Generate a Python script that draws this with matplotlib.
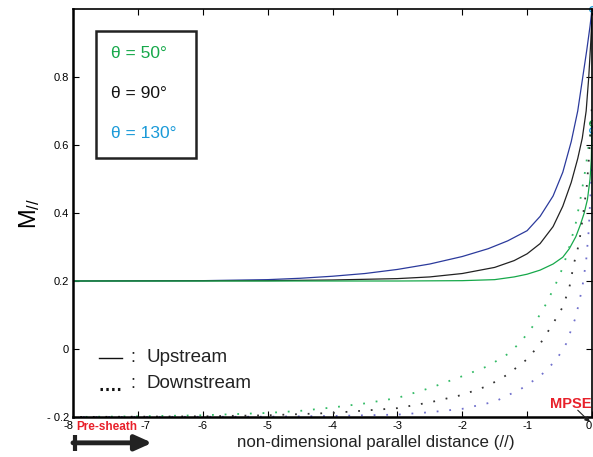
import matplotlib
matplotlib.use("Agg")
import matplotlib.pyplot as plt
import matplotlib.transforms as mtransforms
from matplotlib.patches import Rectangle

plt.rcParams['font.family'] = ['Liberation Sans', 'DejaVu Sans']

# ---- data ----
up_blue_x = [-8, -6, -5, -4.5, -4, -3.5, -3, -2.5, -2, -1.6, -1.3, -1.0, -0.8, -0.6,
             -0.45, -0.32, -0.22, -0.15, -0.08, -0.03, 0]
up_blue_y = [0.2, 0.201, 0.204, 0.208, 0.214, 0.222, 0.234, 0.25, 0.272, 0.295, 0.318,
             0.348, 0.39, 0.45, 0.52, 0.61, 0.70, 0.79, 0.88, 0.95, 1.0]

up_black_x = [-8, -5, -4, -3, -2.5, -2, -1.5, -1.2, -1.0, -0.8, -0.6, -0.45, -0.32,
              -0.22, -0.15, -0.09, -0.05, -0.02, 0]
up_black_y = [0.2, 0.201, 0.203, 0.207, 0.212, 0.222, 0.24, 0.26, 0.28, 0.31, 0.36,
              0.42, 0.49, 0.56, 0.62, 0.70, 0.80, 0.90, 0.98]

up_green_x = [-8, -3, -2, -1.5, -1.2, -1.0, -0.8, -0.6, -0.45, -0.35, -0.25, -0.18,
              -0.12, -0.07, -0.03, -0.01, 0]
up_green_y = [0.2, 0.2, 0.201, 0.204, 0.212, 0.22, 0.232, 0.25, 0.27, 0.295, 0.33,
              0.365, 0.40, 0.44, 0.50, 0.56, 0.665]

dn_green_x = [-8, -7, -6, -5, -4.5, -4, -3.5, -3, -2.5, -2, -1.6, -1.3, -1.1, -0.9,
              -0.7, -0.55, -0.45, -0.35, -0.25, -0.17, -0.1, -0.05, 0]
dn_green_y = [-0.2, -0.198, -0.195, -0.188, -0.182, -0.172, -0.16, -0.144, -0.115,
              -0.08, -0.05, -0.015, 0.02, 0.07, 0.135, 0.195, 0.24, 0.30, 0.37, 0.45,
              0.53, 0.60, 0.665]

dn_black_x = [-8, -6, -5, -4, -3, -2.5, -2, -1.6, -1.3, -1.0, -0.8, -0.6, -0.45, -0.35,
              -0.28, -0.2, -0.14, -0.08, -0.04, 0]
dn_black_y = [-0.2, -0.198, -0.195, -0.188, -0.174, -0.157, -0.135, -0.108, -0.075,
              -0.03, 0.015, 0.075, 0.124, 0.18, 0.25, 0.31, 0.39, 0.48, 0.58, 0.72]

dn_blue_x = [-8, -5, -4, -3, -2.5, -2, -1.5, -1.1, -0.8, -0.55, -0.4, -0.25, -0.15,
             -0.09, -0.05, 0]
dn_blue_y = [-0.2, -0.199, -0.197, -0.193, -0.186, -0.176, -0.155, -0.118, -0.08,
             -0.032, 0.015, 0.094, 0.18, 0.26, 0.35, 0.55]

end_marks_x = [0, 0, 0]
end_marks_y = [1.0, 0.665, 0.644]
end_marks_c = ['#1a9ad8', '#16a84a', '#1a9ad8']

xticks = [-8, -7, -6, -5, -4, -3, -2, -1, 0]
yticks = [-0.2, 0, 0.2, 0.4, 0.6, 0.8]
ytick_labels = ['- 0.2', '0', '0.2', '0.4', '0.6', '0.8']
theta_labels = ['θ = 50°', 'θ = 90°', 'θ = 130°']
theta_colors = ['#16a84a', '#111111', '#1a9ad8']

# ---- figure ----
fig = plt.figure(figsize=(5.93, 4.57), dpi=100)
ax = fig.add_axes([73/593, 40/457, 519/593, 408/457])

BLUE = '#2b3a9c'
BLACK = '#222222'
GREEN = '#16a84a'

ax.plot(up_blue_x, up_blue_y, color=BLUE, lw=0.9)
ax.plot(up_black_x, up_black_y, color=BLACK, lw=0.9)
ax.plot(up_green_x, up_green_y, color=GREEN, lw=0.9)

ax.plot(dn_green_x, dn_green_y, color='#33bb66', lw=1.3, ls=(0, (1, 6)))
ax.plot(dn_black_x, dn_black_y, color='#333333', lw=1.3, ls=(3, (1, 6)))
ax.plot(dn_blue_x, dn_blue_y, color='#7070cc', lw=1.3, ls=(1.5, (1, 6)))

for xm, ym, cm in zip(end_marks_x, end_marks_y, end_marks_c):
    ax.plot([xm], [ym], marker='o', ms=4, mfc='none', mec=cm, mew=0.9, clip_on=False)

ax.set_xlim(-8, 0)
ax.set_ylim(-0.2, 1.0)
ax.set_xticks(xticks)
ax.set_xticklabels([str(t) for t in xticks])
ax.set_yticks(yticks)
ax.set_yticklabels(ytick_labels)
ax.tick_params(direction='in', length=4, width=0.8, labelsize=8,
               top=True, right=True, pad=3)

# nudge some x tick labels like the reference
labs = ax.get_xticklabels()
for idx, dx in [(0, -4.5), (1, 8), (8, -3)]:
    labs[idx].set_transform(labs[idx].get_transform() +
                            mtransforms.ScaledTranslation(dx/100, 0, fig.dpi_scale_trans))

for s in ['left', 'bottom']:
    ax.spines[s].set_linewidth(1.8)
for s in ['top', 'right']:
    ax.spines[s].set_linewidth(1.2)

# theta box
def ax_px(px, py):
    return ((px - 73) / 519, (417 - py) / 408)

x0, y0 = ax_px(96, 158)
x1, y1 = ax_px(196, 31)
ax.add_patch(Rectangle((x0, y0), x1 - x0, y1 - y0, transform=ax.transAxes,
                       fill=False, ec='#222222', lw=1.8))
for lab, col, py in zip(theta_labels, theta_colors, [53, 93, 134]):
    tx, ty = ax_px(111, py)
    ax.text(tx, ty, lab, color=col, fontsize=12.5, transform=ax.transAxes,
            va='center', ha='left')

# up/down legend
a, b = ax_px(99, 358)
c, d = ax_px(122, 358)
ax.plot([a, c], [b, d], color='#111111', lw=1.0, transform=ax.transAxes)
tx, ty = ax_px(130, 358)
ax.text(tx, ty, ':', fontsize=13, transform=ax.transAxes, va='center', color='#222222')
tx, ty = ax_px(146, 358)
ax.text(tx, ty, 'Upstream', fontsize=13.5, transform=ax.transAxes, va='center', color='#222222')
a, b = ax_px(100, 389)
c, d = ax_px(121, 389)
ax.plot([a, c], [b, d], color='#111111', lw=2.2, ls=(0, (0.8, 1.1)), transform=ax.transAxes)
tx, ty = ax_px(130, 384)
ax.text(tx, ty, ':', fontsize=13, transform=ax.transAxes, va='center', color='#222222')
tx, ty = ax_px(146, 384)
ax.text(tx, ty, 'Downstream', fontsize=13.5, transform=ax.transAxes, va='center', color='#222222')

# axis labels
fig.text(30/593, 1 - 213/457, r'$\mathregular{M_{//}}$', fontsize=17, rotation=90,
         ha='center', va='center')
fig.text(375.5/593, 1 - 442/457, 'non-dimensional parallel distance (//)', fontsize=12.2,
         ha='center', va='center', color='#222222')

# Pre-sheath annotation
fig.text(107/593, 1 - 427/457, 'Pre-sheath', fontsize=8.5, color='#e8202a',
         ha='center', va='center', fontweight='bold')
ax.annotate('', xy=(-6.78, -0.276), xytext=(-8.0, -0.276),
            xycoords='data', textcoords='data', annotation_clip=False,
            arrowprops=dict(arrowstyle='-|>,head_width=0.45,head_length=1.0',
                            color='#222222', lw=3.5, shrinkA=0, shrinkB=0))
ax.plot([-7.975, -7.975], [-0.252, -0.3], color='#222222', lw=3, clip_on=False,
        solid_capstyle='butt')

# MPSE annotation
tx, ty = ax_px(571, 403.5)
ax.text(tx, ty, 'MPSE', fontsize=10.5, color='#e8202a', fontweight='bold',
        transform=ax.transAxes, ha='center', va='center')
ax.annotate('', xy=(-0.03, -0.215), xytext=(-0.22, -0.18), annotation_clip=False,
            arrowprops=dict(arrowstyle='-|>,head_length=0.3,head_width=0.15',
                            color='#222222', lw=0.8, shrinkA=0, shrinkB=0))

fig.savefig('out.png', dpi=100)
